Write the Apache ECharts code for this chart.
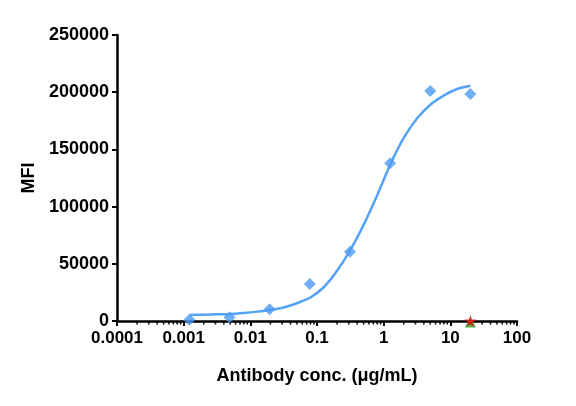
<!DOCTYPE html>
<html>
<head>
<meta charset="utf-8">
<script src="https://cdn.jsdelivr.net/npm/echarts@6/dist/echarts.min.js"></script>
<style>
  html,body{margin:0;padding:0;background:#fff;}
  #chart{width:576px;height:406px;}
</style>
</head>
<body>
<div id="chart"></div>
<script>
// measured points (conc in ug/mL, MFI)
const conc = [0.00122, 0.00488, 0.0195, 0.078, 0.3125, 1.25, 5, 20]
const mfi = [1000, 3200, 10200, 32300, 60600, 137800, 201000, 198400]
// fitted curve
const fitConc = [0.00122, 0.002, 0.00316, 0.005, 0.00794, 0.0126, 0.02, 0.0316, 0.05, 0.0794, 0.126, 0.2, 0.316, 0.5, 0.794, 1.26, 2.0, 3.16, 5.01, 7.94, 12.6, 20]
const fitMfi = [5300, 5500, 5800, 6100, 7000, 8200, 9700, 11800, 15500, 20500, 29500, 44000, 62000, 84000, 109500, 137000, 160000, 177000, 189000, 197000, 202800, 205700]
// controls at top concentration
const ctrlA = [[20, 0]]   // green triangle
const ctrlB = [[20, 0]]   // red star
const xTickLabels = ['0.0001', '0.001', '0.01', '0.1', '1', '10', '100']
const minorTicks = []
;[0.0001, 0.001, 0.01, 0.1, 1, 10].forEach(d=>{
  for(let k=2;k<=9;k++) minorTicks.push([d*k, 0])
})

const font = 'Arial, "Liberation Sans", sans-serif'
var myChart = echarts.init(document.getElementById('chart'))
var option = {
  animation: false,
  grid: { left: 117, right: 59, top: 35, bottom: 85 },
  xAxis: {
    type: 'log',
    logBase: 10,
    min: 0.0001,
    max: 100,
    name: 'Antibody conc. (μg/mL)',
    nameLocation: 'middle',
    nameGap: 46,
    nameTextStyle: { fontFamily: font, fontWeight: 'bold', fontSize: 18, color: '#000' },
    axisLine: { lineStyle: { color: '#000', width: 2.5 } },
    axisTick: { length: 5, lineStyle: { color: '#000', width: 2 } },
    axisLabel: {
      fontFamily: font, fontWeight: 'bold', fontSize: 17, color: '#000', margin: 9,
      formatter: (v, i)=> xTickLabels[i]
    },
    splitLine: { show: false }
  },
  yAxis: {
    type: 'value',
    min: 0,
    max: 250000,
    interval: 50000,
    name: 'MFI',
    nameLocation: 'middle',
    nameGap: 76,
    nameTextStyle: { fontFamily: font, fontWeight: 'bold', fontSize: 18, color: '#000' },
    axisLine: { show: true, lineStyle: { color: '#000', width: 2.5 } },
    axisTick: { show: true, length: 5, lineStyle: { color: '#000', width: 2 } },
    axisLabel: {
      fontFamily: font, fontWeight: 'bold', fontSize: 18, color: '#000', margin: 8,
      formatter: v=> String(v)
    },
    splitLine: { show: false }
  },
  series: [
    {
      // minor log ticks
      type: 'custom',
      silent: true,
      clip: false,
      data: minorTicks,
      renderItem: function(params, api){
        let p = api.coord([api.value(0), 0])
        return {
          type: 'line',
          shape: { x1: p[0], y1: p[1], x2: p[0], y2: p[1] + 3.5 },
          style: { stroke: '#000', lineWidth: 1.5 }
        }
      },
      z: 1
    },
    {
      type: 'line',
      data: fitConc.map((c,i)=>[c, fitMfi[i]]),
      smooth: 0.3,
      showSymbol: false,
      lineStyle: { color: '#55a3f5', width: 2.5 },
      z: 2
    },
    {
      type: 'scatter',
      data: conc.map((c,i)=>[c, mfi[i]]),
      symbol: 'diamond',
      symbolSize: [12, 12],
      itemStyle: { color: '#4c9bf2' },
      clip: false,
      z: 3
    },
    {
      type: 'scatter',
      data: ctrlA,
      symbol: 'triangle',
      symbolSize: 11,
      symbolOffset: [0, 1],
      itemStyle: { color: '#1fa51f' },
      clip: false,
      z: 4
    },
    {
      type: 'scatter',
      data: ctrlB,
      symbol: 'path://M50,0 L61,35 L98,35 L68,57 L79,91 L50,70 L21,91 L32,57 L2,35 L39,35 Z',
      symbolSize: 12,
      itemStyle: { color: '#f01010' },
      clip: false,
      z: 5
    }
  ]
}
myChart.setOption(option)
</script>
</body>
</html>
